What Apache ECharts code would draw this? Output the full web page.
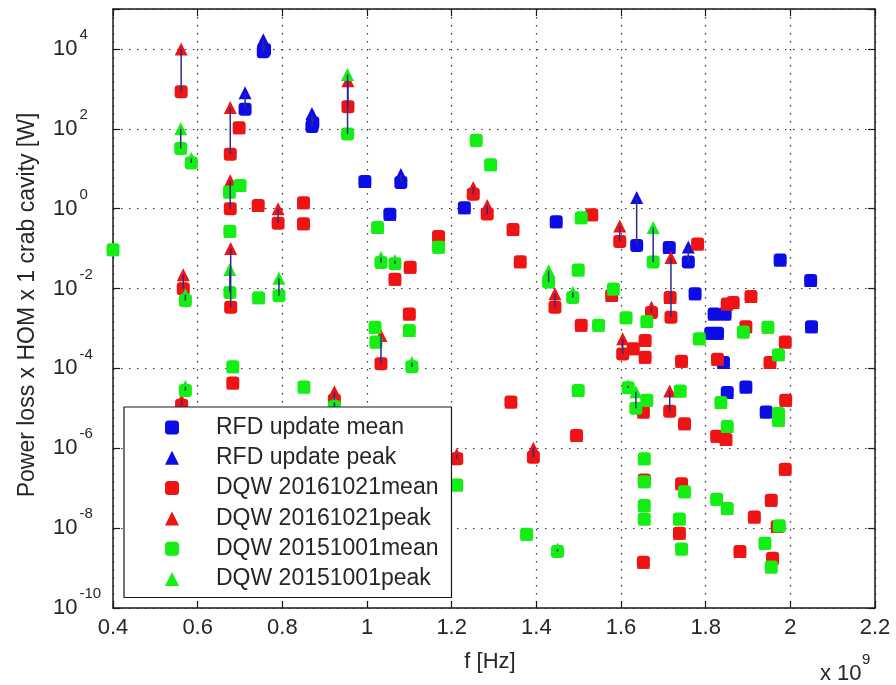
<!DOCTYPE html>
<html>
<head>
<meta charset="utf-8">
<title>Power loss x HOM</title>
<script src="https://cdn.jsdelivr.net/npm/echarts@6/dist/echarts.min.js"></script>
<style>
body { margin: 0; background: #fff; }
#main { width: 896px; height: 685px; }
</style>
</head>
<body>
<div id="main"></div>
<script>
// frequencies in units of 1e9 Hz, power in W
var rfdFreq = [0.712, 0.755, 0.758, 0.870, 0.872, 0.995, 1.054, 1.080, 1.230, 1.447, 1.637, 1.714, 1.759,
    1.775, 1.820, 1.846, 1.812, 1.828, 1.976, 2.048, 2.050, 1.842, 1.851, 1.895, 1.943];
var rfdMean = [310, 8500, 9500, 115, 140, 4.8, 0.72, 4.5, 1.05, 0.47, 0.12, 0.107, 0.046,
    0.0074, 0.0023, 0.0023, 7.6e-4, 7.6e-4, 0.052, 0.016, 1.1e-3, 1.4e-4, 2.5e-5, 3.4e-5, 8.1e-6];
var rfdPeak = [800, 17000, 12000, 240, 190, 4.8, 0.72, 7.2, 1.05, 0.47, 1.9, 0.107, 0.11,
    0.0074, 0.0023, 0.0023, 7.6e-4, 7.6e-4, 0.052, 0.016, 1.1e-3, 1.4e-4, 2.5e-5, 3.4e-5, 8.1e-6];

var d16Freq = [0.561, 0.677, 0.698, 0.955, 0.743, 0.850, 0.850, 0.790, 0.677, 0.566, 0.678, 0.683, 0.923,
    0.562, 1.066, 1.033, 1.169, 1.102, 1.100, 1.251, 1.284, 1.345, 1.362, 1.531, 1.597, 1.718,
    1.716, 1.781, 1.851, 1.865, 1.907, 1.895, 1.988, 1.828, 1.952, 1.743, 1.657, 1.657, 1.672,
    1.715, 1.653, 1.989, 1.750, 1.826, 1.848, 1.988, 1.655, 1.653, 1.743, 1.738, 1.955, 1.915,
    1.969, 1.881, 1.958, 1.340, 1.495, 1.212, 1.393, 1.444, 1.578, 1.506, 1.604, 1.629];
var d16Mean = [850, 23, 107, 355, 1.2, 1.4, 0.42, 0.43, 1.0, 0.0099, 0.0034, 4.3e-5, 1.6e-5,
    1.2e-5, 0.017, 1.3e-4, 0.2, 0.034, 2.3e-3, 2.3, 0.74, 0.3, 0.047, 0.7, 0.15, 1.9e-3,
    6e-3, 0.13, 4.1e-3, 4.5e-3, 6.3e-3, 1.1e-3, 4.6e-4, 1.7e-4, 1.4e-4, 1.5e-4, 5e-4, 1.9e-4, 2.5e-3,
    8.5e-6, 8.1e-6, 1.6e-5, 4.1e-6, 2e-6, 1.65e-6, 3e-7, 1.6e-7, 1.4e-9, 1.3e-7, 7.4e-9, 5e-8, 1.9e-8,
    1.1e-8, 2.6e-9, 1.75e-9, 1.45e-5, 2.1e-6, 5.5e-7, 6e-7, 3.4e-3, 6.7e-3, 1.2e-3, 2.3e-4, 3.1e-4];
var d16Peak = [1e4, 340, 107, 1600, 1.2, 1.4, 0.42, 1.0, 5, 0.022, 0.1, 4.3e-5, 2.6e-5,
    1.6e-5, 0.017, 6.7e-4, 0.2, 0.034, 2.3e-3, 3.4, 1.2, 0.3, 0.047, 0.7, 0.37, 0.06,
    6e-3, 0.13, 4.1e-3, 4.5e-3, 6.3e-3, 1.1e-3, 4.6e-4, 1.7e-4, 1.4e-4, 1.5e-4, 5e-4, 1.9e-4, 3.4e-3,
    2.7e-5, 8.1e-6, 1.6e-5, 4.1e-6, 2e-6, 1.65e-6, 3e-7, 1.6e-7, 1.4e-9, 1.3e-7, 7.4e-9, 5e-8, 1.9e-8,
    1.1e-8, 2.6e-9, 1.75e-9, 1.45e-5, 2.1e-6, 7e-7, 1e-6, 7.4e-3, 6.7e-3, 1.2e-3, 5.5e-4, 3.1e-4];

var d15Freq = [0.560, 0.585, 0.954, 0.675, 0.700, 0.676, 0.400, 0.571, 0.676, 0.744, 0.792, 0.683, 0.851,
    0.923, 0.571, 1.025, 1.033, 1.066, 1.019, 1.021, 1.169, 1.100, 1.106, 1.258, 1.292, 1.506,
    1.676, 1.429, 1.499, 1.486, 1.582, 1.547, 1.612, 1.661, 1.785, 1.889, 1.947, 1.972, 1.740,
    1.661, 1.617, 1.635, 1.836, 1.972, 1.972, 1.851, 1.499, 1.212, 1.377, 1.450, 1.655, 1.655,
    1.655, 1.655, 1.750, 1.738, 1.743, 1.826, 1.851, 1.974, 1.940, 1.955];
var d15Mean = [32, 14, 74, 2.6, 3.8, 0.27, 0.093, 0.005, 0.008, 0.0059, 0.0066, 1.1e-4, 3.4e-5,
    1.1e-5, 2.8e-5, 0.34, 0.045, 0.042, 1.07e-3, 4.6e-4, 0.108, 8.9e-4, 1.1e-4, 52, 12.6, 0.59,
    0.046, 0.0145, 0.029, 0.006, 9.8e-3, 1.2e-3, 1.85e-3, 1.5e-3, 5.5e-4, 8.1e-4, 1.07e-3, 2.2e-4, 2.7e-5,
    1.6e-5, 3.3e-5, 1e-5, 1.4e-5, 7.4e-6, 5e-6, 3.5e-6, 2.8e-5, 1.2e-7, 7e-9, 2.6e-9, 5.5e-7, 1.45e-7,
    3.7e-8, 1.7e-8, 8.1e-8, 1.7e-8, 3e-9, 5.3e-8, 3.1e-8, 1.15e-8, 4.2e-9, 1.07e-9];
var d15Peak = [100, 18, 2300, 2.6, 3.8, 0.27, 0.093, 0.007, 0.03, 0.0059, 0.018, 1.1e-4, 3.4e-5,
    1.4e-5, 3.5e-5, 0.34, 0.06, 0.05, 1.07e-3, 4.6e-4, 0.108, 8.9e-4, 1.4e-4, 52, 12.6, 0.59,
    0.34, 0.028, 0.029, 0.008, 9.8e-3, 1.2e-3, 1.85e-3, 1.5e-3, 5.5e-4, 8.1e-4, 1.07e-3, 2.2e-4, 2.7e-5,
    1.6e-5, 3.7e-5, 2.6e-5, 1.4e-5, 7.4e-6, 5e-6, 3.5e-6, 2.8e-5, 1.2e-7, 7e-9, 3e-9, 5.5e-7, 1.45e-7,
    3.7e-8, 1.7e-8, 8.1e-8, 1.7e-8, 3e-9, 5.3e-8, 3.1e-8, 1.15e-8, 4.2e-9, 1.07e-9];

var seriesNames = ['RFD update mean', 'RFD update peak', 'DQW 20161021mean', 'DQW 20161021peak',
    'DQW 20151001mean', 'DQW 20151001peak'];

var FONT = '"Liberation Sans", Arial, sans-serif';
var TXT = '#262626';
var FRAME = '#1a1a1a';
var BLUE = '#0c0ce6', RED = '#ee1414', GREEN = '#14ee14';
var dotted = { color: '#333', width: 1.2, type: [1.5, 6.5] };

function pts(f, v) {
    return f.map(function (x, i) { return [x, v[i]]; });
}
function stems(f, m, p) {
    return f.map(function (x, i) { return [x, m[i], p[i]]; });
}
function mark(name, f, v, symbol, color) {
    return {
        name: name, type: 'scatter', data: pts(f, v),
        symbol: symbol, symbolSize: 13, itemStyle: { color: color, opacity: 1 },
        z: 2, silent: true
    };
}

var lineFrame = { show: true, onZero: false, lineStyle: { color: FRAME, width: 1.5 } };
var tickIn = { show: true, inside: true, length: 7, lineStyle: { color: FRAME, width: 1.2 } };

function yLabel(v) {
    var e = Math.round(Math.log10(v));
    if (e > 4) return '';
    return '{b|10}{s|' + e + '}';
}

var myChart = echarts.init(document.getElementById('main'));
myChart.setOption({
    animation: false,
    grid: { left: 113, right: 21, top: 9, bottom: 77 },
    xAxis: [{
        type: 'value', min: 0.4, max: 2.2, interval: 0.2, position: 'bottom',
        axisLine: lineFrame, axisTick: tickIn,
        axisLabel: { fontSize: 22, fontFamily: FONT, color: TXT, margin: 9 },
        splitLine: { show: true, lineStyle: dotted }
    }, {
        type: 'value', min: 0.4, max: 2.2, interval: 0.2, position: 'top',
        axisLine: lineFrame, axisTick: tickIn,
        axisLabel: { show: false }, splitLine: { show: false }
    }],
    yAxis: [{
        type: 'log', logBase: 10, min: 1e-10, max: 1e5, interval: 2, position: 'left',
        axisLine: lineFrame, axisTick: tickIn,
        axisLabel: {
            formatter: yLabel, align: 'left', margin: 60,
            rich: {
                b: { fontSize: 22, fontFamily: FONT, color: TXT, lineHeight: 22 },
                s: { fontSize: 15, fontFamily: FONT, color: TXT, lineHeight: 15, padding: [0, 0, 28, 2] }
            }
        },
        splitLine: { show: true, lineStyle: dotted },
        minorTick: { show: false }
    }, {
        type: 'log', logBase: 10, min: 1e-10, max: 1e5, interval: 2, position: 'right',
        axisLine: lineFrame, axisTick: tickIn,
        axisLabel: { show: false }, splitLine: { show: false }
    }],
    legend: {
        orient: 'vertical', left: 124, top: 407,
        padding: [9, 13, 7, 41], itemGap: 7.3, itemWidth: 14, itemHeight: 14,
        borderColor: FRAME, borderWidth: 1.2, backgroundColor: '#fff', z: 10,
        selectedMode: false,
        textStyle: { fontSize: 23, fontFamily: FONT, color: TXT, lineHeight: 22, padding: [0, 0, 0, 32] },
        data: seriesNames
    },
    graphic: [{
        type: 'text', x: 28, y: 305, rotation: Math.PI / 2,
        style: { text: 'Power loss x HOM x 1 crab cavity [W]', font: '23px ' + FONT, fill: TXT,
            align: 'center', verticalAlign: 'middle' }
    }, {
        type: 'text', x: 490, y: 662,
        style: { text: 'f [Hz]', font: '22px ' + FONT, fill: TXT, align: 'center', verticalAlign: 'middle' }
    }, {
        type: 'text', x: 820, y: 674,
        style: { text: 'x 10', font: '22px ' + FONT, fill: TXT, align: 'left', verticalAlign: 'middle' }
    }, {
        type: 'text', x: 862, y: 660,
        style: { text: '9', font: '15px ' + FONT, fill: TXT, align: 'left', verticalAlign: 'middle' }
    }],
    series: [
        mark(seriesNames[0], rfdFreq, rfdMean, 'roundRect', BLUE),
        mark(seriesNames[1], rfdFreq, rfdPeak, 'triangle', BLUE),
        mark(seriesNames[2], d16Freq, d16Mean, 'roundRect', RED),
        mark(seriesNames[3], d16Freq, d16Peak, 'triangle', RED),
        mark(seriesNames[4], d15Freq, d15Mean, 'roundRect', GREEN),
        mark(seriesNames[5], d15Freq, d15Peak, 'triangle', GREEN),
        {
            // mean-to-peak stems
            type: 'custom', silent: true, z: 5,
            data: stems(rfdFreq, rfdMean, rfdPeak)
                .concat(stems(d16Freq, d16Mean, d16Peak))
                .concat(stems(d15Freq, d15Mean, d15Peak)),
            encode: { x: 0, y: [1, 2] },
            renderItem: function (params, api) {
                var a = api.coord([api.value(0), api.value(1)]);
                var b = api.coord([api.value(0), api.value(2)]);
                return {
                    type: 'line',
                    shape: { x1: a[0], y1: a[1], x2: b[0], y2: b[1] },
                    style: { stroke: '#2b2b8f', lineWidth: 1.5 }
                };
            }
        }
    ]
});
</script>
</body>
</html>
